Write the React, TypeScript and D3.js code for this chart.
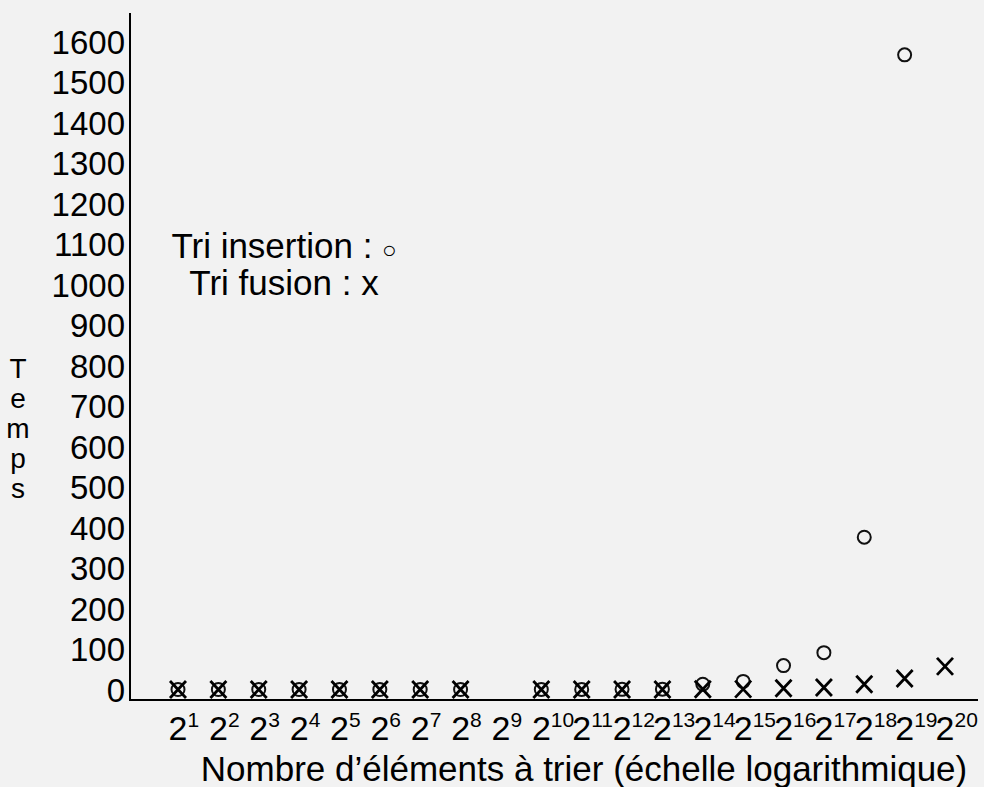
import React, { useEffect, useRef } from 'react';
import * as d3 from 'd3';

// exposants de 2 (nombre d'éléments)
const exponents = [1, 2, 3, 4, 5, 6, 7, 8, 9, 10, 11, 12, 13, 14, 15, 16, 17, 18, 19, 20];
// temps mesurés (null = pas de mesure)
const insertionTimes = [0, 0, 0, 0, 0, 0, 0, 0, null, 0.1, 0.2, 0.4, 0.8, 13, 20, 59, 91, 376, 1567, null];
const fusionTimes = [0, 0, 0, 0, 0, 0, 0, 0, null, 0, 0, 0, 0, 0.5, 1, 3, 5, 13, 27, 57];
const yTicks = [0, 100, 200, 300, 400, 500, 600, 700, 800, 900, 1000, 1100, 1200, 1300, 1400, 1500, 1600];
const yTitle = 'Temps';
const xTitle = 'Nombre d\u2019éléments à trier (échelle logarithmique)';
const legendLabels = ['Tri insertion : ', 'Tri fusion : '];
const legendSymbols = ['\u25CB', 'x'];

const W = 984, H = 787;
const FONT = '"Liberation Sans", Arial, sans-serif';

export default function App() {
    const ref = useRef<SVGSVGElement>(null);

    useEffect(() => {
        const svg = d3.select(ref.current);
        svg.selectAll('*').remove();

        const x = d3.scaleLog().base(2).domain([2, 2 ** 20]).range([178, 945]);
        const y = d3.scaleLinear().domain([0, 1600]).range([689.5, 41.5]);

        svg.append('rect').attr('width', W).attr('height', H).attr('fill', '#f2f2f2');

        // axes
        svg.append('line').attr('x1', 130).attr('x2', 130).attr('y1', 13).attr('y2', 701)
            .attr('stroke', '#000').attr('stroke-width', 2);
        svg.append('line').attr('x1', 129).attr('x2', 978).attr('y1', 700).attr('y2', 700)
            .attr('stroke', '#000').attr('stroke-width', 2);

        const g = svg.append('g').attr('font-family', FONT).attr('fill', '#000');

        g.selectAll('text.ytick').data(yTicks).enter().append('text')
            .attr('class', 'ytick')
            .attr('x', 125)
            .attr('y', d => y(d) + 12)
            .attr('text-anchor', 'end')
            .attr('font-size', 33)
            .text(d => d);

        const xl = g.selectAll('text.xtick').data(exponents).enter().append('text')
            .attr('class', 'xtick')
            .attr('x', d => x(2 ** d) - 9.4)
            .attr('y', 740)
            .attr('font-size', 34);
        xl.append('tspan').text('2');
        xl.append('tspan').attr('font-size', 21).attr('dy', -13).text(d => d);

        g.append('text').attr('x', 584).attr('y', 781).attr('text-anchor', 'middle')
            .attr('font-size', 35).text(xTitle);

        const yt = g.append('text').attr('font-size', 28).attr('text-anchor', 'middle');
        yt.selectAll('tspan').data(yTitle.split('')).enter().append('tspan')
            .attr('x', 18)
            .attr('y', (d, i) => 378 + i * 30)
            .text(d => d);

        const lg = g.selectAll('text.legend').data(legendLabels).enter().append('text')
            .attr('class', 'legend')
            .attr('x', 284)
            .attr('y', (d, i) => 258 + i * 37)
            .attr('text-anchor', 'middle')
            .attr('font-size', 35);
        lg.append('tspan').text(d => d);
        lg.append('tspan')
            .attr('font-size', (d, i) => (i === 0 ? 24 : 35))
            .text((d, i) => legendSymbols[i]);

        // points
        const ins = exponents.map((e, i) => ({ e, v: insertionTimes[i] })).filter(d => d.v !== null);
        const fus = exponents.map((e, i) => ({ e, v: fusionTimes[i] })).filter(d => d.v !== null);

        svg.selectAll('circle.ins').data(ins).enter().append('circle')
            .attr('class', 'ins')
            .attr('cx', d => x(2 ** d.e))
            .attr('cy', d => y(d.v as number))
            .attr('r', 6.5)
            .attr('fill', 'none')
            .attr('stroke', '#111')
            .attr('stroke-width', 2);

        const cross = 'M-8,-8.5L8,8.5M-8,8.5L8,-8.5';
        svg.selectAll('path.fus').data(fus).enter().append('path')
            .attr('class', 'fus')
            .attr('transform', d => `translate(${x(2 ** d.e)},${y(d.v as number)})`)
            .attr('d', cross)
            .attr('fill', 'none')
            .attr('stroke', '#000')
            .attr('stroke-width', 2.8);
    }, []);

    return (
        <div style={{ position: 'fixed', left: 0, top: 0, width: W, height: H, background: '#f2f2f2' }}>
            <svg ref={ref} width={W} height={H} style={{ display: 'block' }} />
        </div>
    );
}
